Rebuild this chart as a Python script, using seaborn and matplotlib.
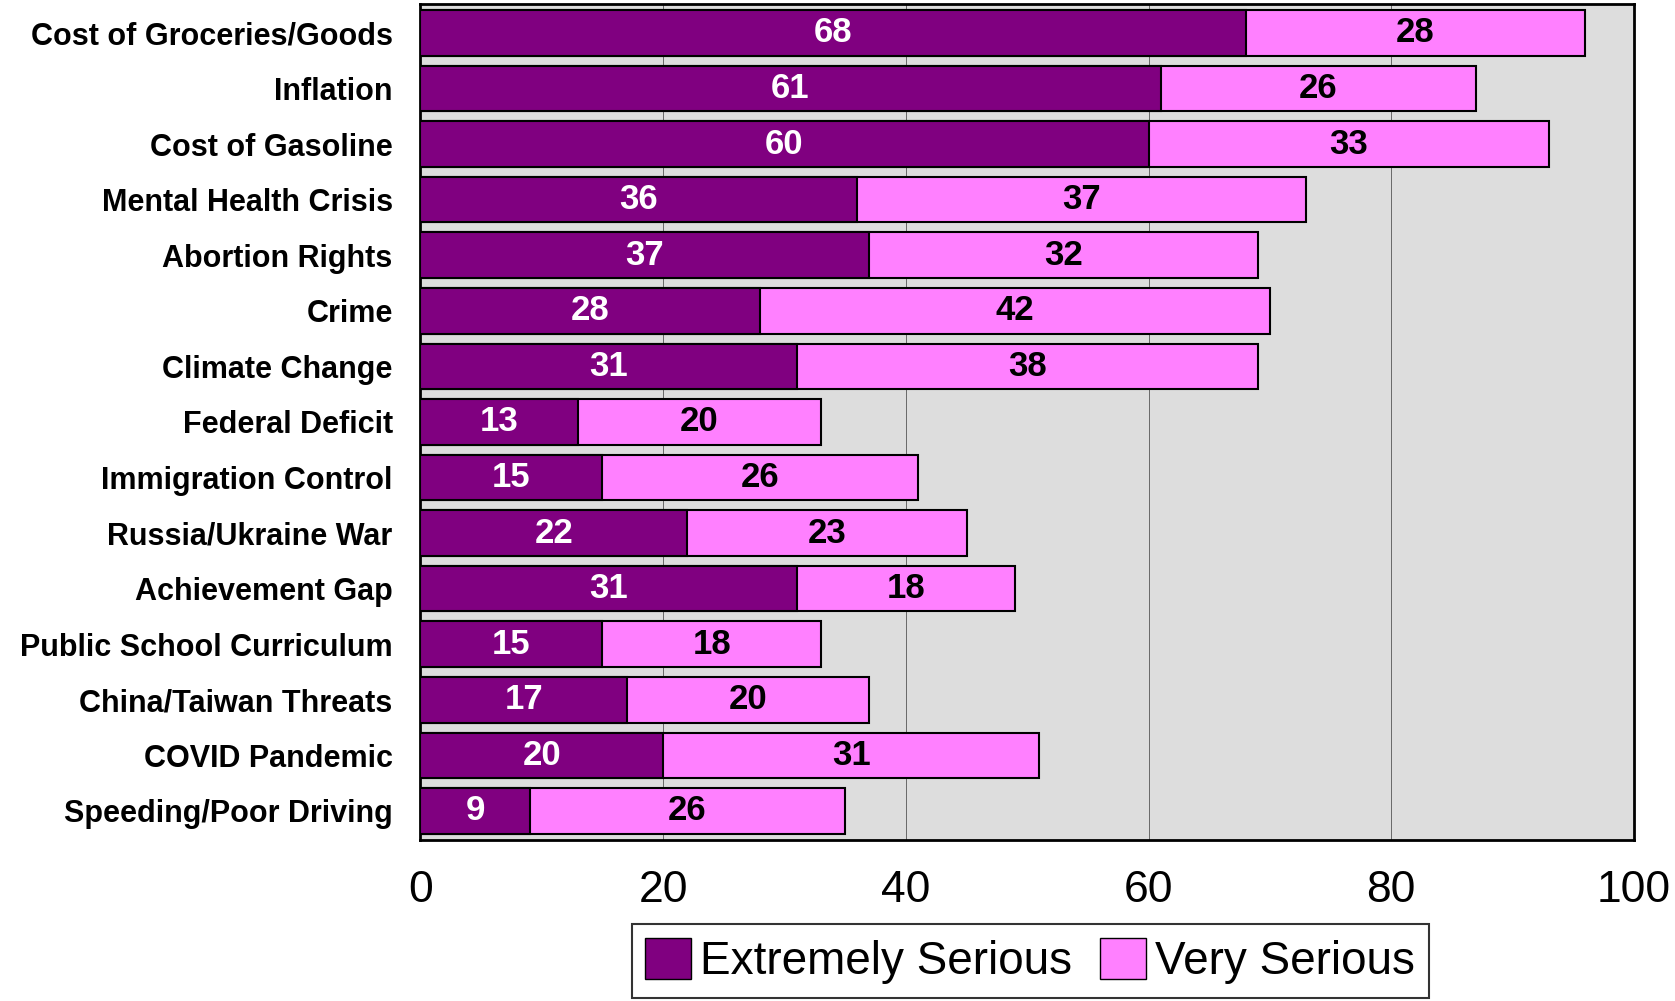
import pandas as pd
import numpy as np
import matplotlib.pyplot as plt
import seaborn as sns
from matplotlib.patches import Patch

issues = ["Cost of Groceries/Goods", "Inflation", "Cost of Gasoline", "Mental Health Crisis",
          "Abortion Rights", "Crime", "Climate Change", "Federal Deficit", "Immigration Control",
          "Russia/Ukraine War", "Achievement Gap", "Public School Curriculum",
          "China/Taiwan Threats", "COVID Pandemic", "Speeding/Poor Driving"]
extremely = [68, 61, 60, 36, 37, 28, 31, 13, 15, 22, 31, 15, 17, 20, 9]
very = [28, 26, 33, 37, 32, 42, 38, 20, 26, 23, 18, 18, 20, 31, 26]

dark = "#800080"
light = "#FF80FF"

df = pd.DataFrame({"issue": issues, "extremely": extremely, "very": very})
df["total"] = df["extremely"] + df["very"]

sns.set_style("white")
plt.rcParams["font.family"] = ["Liberation Sans", "DejaVu Sans"]
plt.rcParams["text.color"] = "black"
plt.rcParams["xtick.color"] = "black"
plt.rcParams["ytick.color"] = "black"

fig = plt.figure(figsize=(16.75, 10.01), dpi=100)
ax = fig.add_axes([0.251, 0.161, 0.7245, 0.835])
ax.set_facecolor("#DDDDDD")

# stacked: total in pink underneath, extreme in purple on top
sns.barplot(data=df, x="total", y="issue", color=light, orient="h", width=0.82,
            edgecolor="black", linewidth=1.5, saturation=1, ax=ax, zorder=3)
sns.barplot(data=df, x="extremely", y="issue", color=dark, orient="h", width=0.82,
            edgecolor="black", linewidth=1.5, saturation=1, ax=ax, zorder=4)

for i, (e, v) in enumerate(zip(extremely, very)):
    ax.text(e / 2, i, str(e), ha="center", va="center", color="white",
            fontsize=25, fontweight="bold", zorder=5)
    ax.text(e + v / 2, i, str(v), ha="center", va="center", color="black",
            fontsize=25, fontweight="bold", zorder=5)

ax.set_xlim(0, 100)
ax.set_ylim(len(issues) - 0.5 + 0.02, -0.5 - 0.02)
ax.set_xticks([0, 20, 40, 60, 80, 100])
for xv in [20, 40, 60, 80]:
    ax.axvline(xv, color="#555555", lw=0.6, zorder=1)
ax.set_xlabel("")
ax.set_ylabel("")
ax.tick_params(axis="x", length=0, labelsize=32, pad=22)
ax.tick_params(axis="y", length=0, labelsize=22, pad=20)
for lab in ax.get_yticklabels():
    lab.set_fontweight("bold")
for sp in ax.spines.values():
    sp.set_visible(True)
    sp.set_color("black")
    sp.set_linewidth(2)

handles = [Patch(facecolor=dark, edgecolor="black", label="Extremely Serious"),
           Patch(facecolor=light, edgecolor="black", label="Very Serious")]
leg = fig.legend(handles=handles, loc="lower center", bbox_to_anchor=(0.615, 0.003), ncol=2,
                 fontsize=33, frameon=True, fancybox=False, edgecolor="black",
                 handlelength=1.0, handleheight=1.0, handletextpad=0.2, columnspacing=0.6,
                 borderpad=0.3, borderaxespad=0)
leg.get_frame().set_linewidth(1.5)

fig.savefig("out.png", dpi=100)
